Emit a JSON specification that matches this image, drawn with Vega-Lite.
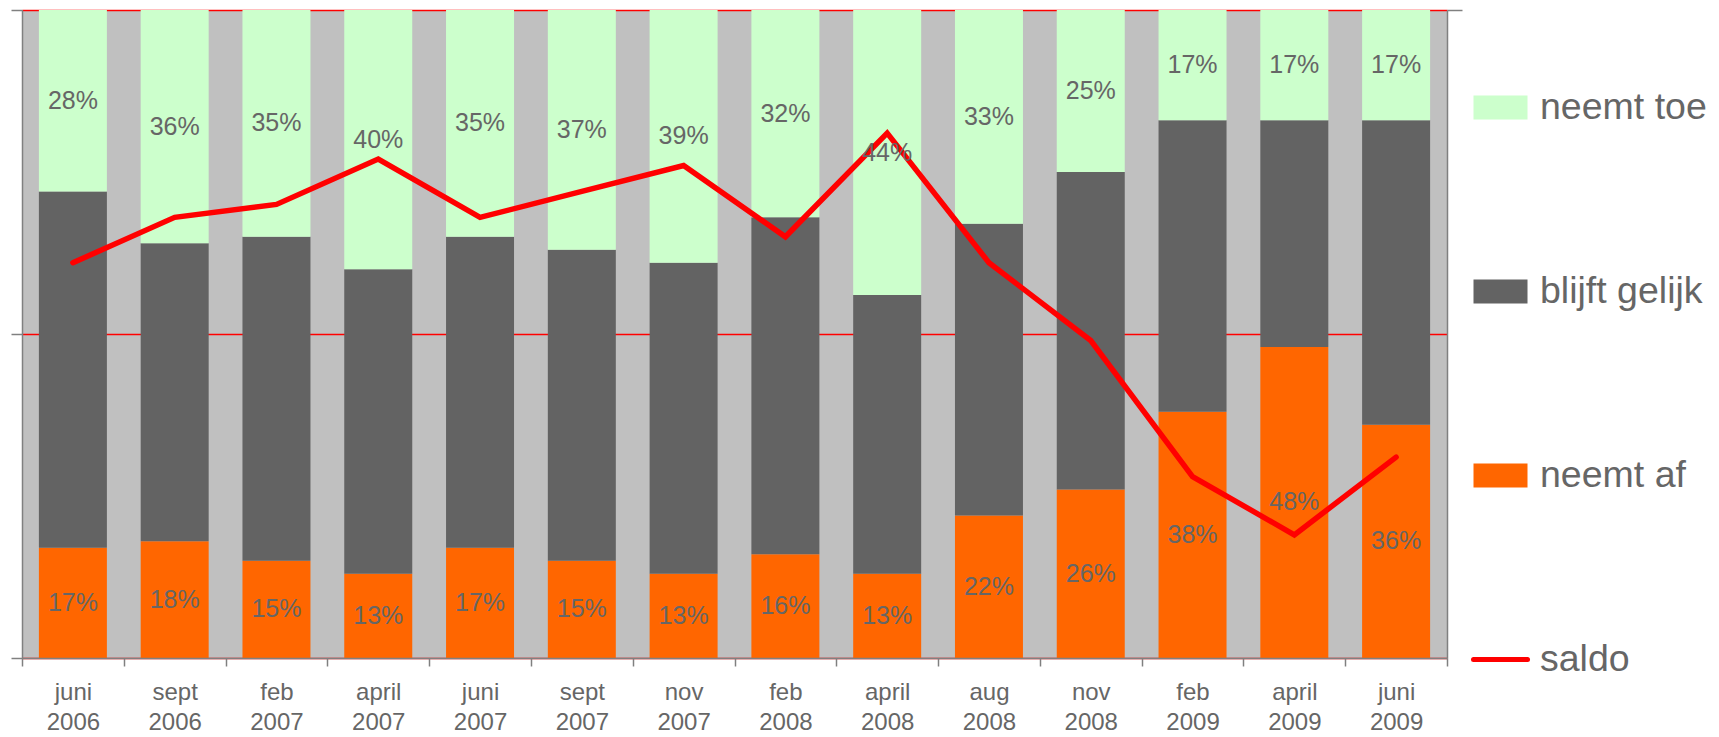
{
  "$schema": "https://vega.github.io/schema/vega-lite/v6.json",
  "width": 1425,
  "height": 648,
  "autosize": "none",
  "padding": {"left": 22, "top": 10, "right": 272, "bottom": 79},
  "background": "white",
  "config": {
    "view": {"fill": "#C0C0C0", "stroke": null},
    "font": "Liberation Sans"
  },
  "datasets": {
    "segments": [
      {"periode": "juni 2006", "cat": "neemt af", "pct": 0.17},
      {"periode": "juni 2006", "cat": "blijft gelijk", "pct": 0.55},
      {"periode": "juni 2006", "cat": "neemt toe", "pct": 0.28},
      {"periode": "sept 2006", "cat": "neemt af", "pct": 0.18},
      {"periode": "sept 2006", "cat": "blijft gelijk", "pct": 0.46},
      {"periode": "sept 2006", "cat": "neemt toe", "pct": 0.36},
      {"periode": "feb 2007", "cat": "neemt af", "pct": 0.15},
      {"periode": "feb 2007", "cat": "blijft gelijk", "pct": 0.50},
      {"periode": "feb 2007", "cat": "neemt toe", "pct": 0.35},
      {"periode": "april 2007", "cat": "neemt af", "pct": 0.13},
      {"periode": "april 2007", "cat": "blijft gelijk", "pct": 0.47},
      {"periode": "april 2007", "cat": "neemt toe", "pct": 0.40},
      {"periode": "juni 2007", "cat": "neemt af", "pct": 0.17},
      {"periode": "juni 2007", "cat": "blijft gelijk", "pct": 0.48},
      {"periode": "juni 2007", "cat": "neemt toe", "pct": 0.35},
      {"periode": "sept 2007", "cat": "neemt af", "pct": 0.15},
      {"periode": "sept 2007", "cat": "blijft gelijk", "pct": 0.48},
      {"periode": "sept 2007", "cat": "neemt toe", "pct": 0.37},
      {"periode": "nov 2007", "cat": "neemt af", "pct": 0.13},
      {"periode": "nov 2007", "cat": "blijft gelijk", "pct": 0.48},
      {"periode": "nov 2007", "cat": "neemt toe", "pct": 0.39},
      {"periode": "feb 2008", "cat": "neemt af", "pct": 0.16},
      {"periode": "feb 2008", "cat": "blijft gelijk", "pct": 0.52},
      {"periode": "feb 2008", "cat": "neemt toe", "pct": 0.32},
      {"periode": "april 2008", "cat": "neemt af", "pct": 0.13},
      {"periode": "april 2008", "cat": "blijft gelijk", "pct": 0.43},
      {"periode": "april 2008", "cat": "neemt toe", "pct": 0.44},
      {"periode": "aug 2008", "cat": "neemt af", "pct": 0.22},
      {"periode": "aug 2008", "cat": "blijft gelijk", "pct": 0.45},
      {"periode": "aug 2008", "cat": "neemt toe", "pct": 0.33},
      {"periode": "nov 2008", "cat": "neemt af", "pct": 0.26},
      {"periode": "nov 2008", "cat": "blijft gelijk", "pct": 0.49},
      {"periode": "nov 2008", "cat": "neemt toe", "pct": 0.25},
      {"periode": "feb 2009", "cat": "neemt af", "pct": 0.38},
      {"periode": "feb 2009", "cat": "blijft gelijk", "pct": 0.45},
      {"periode": "feb 2009", "cat": "neemt toe", "pct": 0.17},
      {"periode": "april 2009", "cat": "neemt af", "pct": 0.48},
      {"periode": "april 2009", "cat": "blijft gelijk", "pct": 0.35},
      {"periode": "april 2009", "cat": "neemt toe", "pct": 0.17},
      {"periode": "juni 2009", "cat": "neemt af", "pct": 0.36},
      {"periode": "juni 2009", "cat": "blijft gelijk", "pct": 0.47},
      {"periode": "juni 2009", "cat": "neemt toe", "pct": 0.17}
    ],
    "saldo": [
      {"periode": "juni 2006", "saldo": 11},
      {"periode": "sept 2006", "saldo": 18},
      {"periode": "feb 2007", "saldo": 20},
      {"periode": "april 2007", "saldo": 27},
      {"periode": "juni 2007", "saldo": 18},
      {"periode": "sept 2007", "saldo": 22},
      {"periode": "nov 2007", "saldo": 26},
      {"periode": "feb 2008", "saldo": 15},
      {"periode": "april 2008", "saldo": 31},
      {"periode": "aug 2008", "saldo": 11},
      {"periode": "nov 2008", "saldo": -1},
      {"periode": "feb 2009", "saldo": -22},
      {"periode": "april 2009", "saldo": -31},
      {"periode": "juni 2009", "saldo": -19}
    ]
  },
  "encoding": {
    "x": {
      "field": "periode",
      "type": "nominal",
      "sort": null,
      "scale": {
        "domain": ["juni 2006", "sept 2006", "feb 2007", "april 2007", "juni 2007", "sept 2007", "nov 2007", "feb 2008", "april 2008", "aug 2008", "nov 2008", "feb 2009", "april 2009", "juni 2009"],
        "paddingInner": 0,
        "paddingOuter": 0
      },
      "axis": {
        "title": null,
        "tickBand": "extent",
        "labelExpr": "split(datum.label, ' ')",
        "labelFontSize": 24,
        "labelColor": "#666666",
        "labelFont": "Liberation Sans",
        "labelLineHeight": 30,
        "labelPadding": 14,
        "labelAngle": 0,
        "tickSize": 8,
        "tickColor": "#808080",
        "tickWidth": 1.5,
        "domainColor": "#808080",
        "domainWidth": 1.5,
        "zindex": 1
      }
    }
  },
  "layer": [
    {
      "layer": [
        {
          "data": {"name": "segments"},
          "mark": {"type": "bar", "width": {"band": 0.668}},
          "encoding": {
            "y": {
              "field": "pct",
              "type": "quantitative",
              "stack": "zero",
              "scale": {"domain": [0, 1], "nice": false},
              "axis": {
                "title": null,
                "values": [0, 0.5, 1],
                "labels": false,
                "tickSize": 11,
                "tickColor": "#808080",
                "tickWidth": 1.5,
                "domainColor": "#808080",
                "domainWidth": 1.5,
                "grid": true,
                "gridColor": "#FF0000",
                "gridWidth": 1.5
              }
            },
            "order": {"field": "periode"},
            "color": {
              "field": "cat",
              "type": "nominal",
              "scale": {
                "domain": ["neemt toe", "blijft gelijk", "neemt af", "saldo"],
                "range": ["#CCFFCC", "#636363", "#FF6600", "#FF0000"]
              },
              "legend": {
                "title": null,
                "orient": "none",
                "legendX": 1449,
                "legendY": 68,
                "padding": 0,
                "symbolSize": 2916,
                "symbolStrokeWidth": 0,
                "labelFontSize": 37.5,
                "labelFont": "Liberation Sans",
                "labelColor": "#666666",
                "labelOffset": 10,
                "labelLimit": 300,
                "rowPadding": 132,
                "encode": {
                  "symbols": {
                    "update": {
                      "shape": {"signal": "datum.value === 'saldo' ? 'stroke' : 'M-1,-0.444H1V0.444H-1Z'"},
                      "fill": {"signal": "scale('color', datum.value)"},
                      "stroke": {"signal": "datum.value === 'saldo' ? '#FF0000' : 'transparent'"},
                      "strokeWidth": {"value": 5},
                      "strokeCap": {"value": "round"},
                      "opacity": {"value": 1}
                    }
                  }
                }
              }
            }
          }
        },
        {
          "data": {"name": "saldo"},
          "mark": {"type": "line", "color": "#FF0000", "strokeWidth": 5.5, "strokeCap": "round", "strokeJoin": "miter"},
          "encoding": {
            "y": {
              "field": "saldo",
              "type": "quantitative",
              "scale": {"domain": [-50, 50], "nice": false},
              "axis": {
                "orient": "right",
                "title": null,
                "values": [50],
                "labels": false,
                "tickSize": 15,
                "tickColor": "#808080",
                "tickWidth": 1.5,
                "domainColor": "#808080",
                "domainWidth": 1.5,
                "grid": false
              }
            }
          }
        }
      ],
      "resolve": {"scale": {"y": "independent"}, "axis": {"y": "independent"}}
    },
    {
      "data": {"name": "segments"},
      "mark": {"type": "text", "fontSize": 25, "font": "Liberation Sans", "baseline": "middle", "align": "center", "fill": "#666666"},
      "encoding": {
        "y": {
          "field": "pct",
          "type": "quantitative",
          "stack": "zero",
          "bandPosition": 0.5,
          "scale": {"domain": [0, 1], "nice": false},
          "axis": null
        },
        "order": {"field": "periode"},
        "detail": {"field": "cat"},
        "text": {"field": "pct", "type": "quantitative", "format": ".0%"},
        "opacity": {"condition": {"test": "datum.cat === 'blijft gelijk'", "value": 0}, "value": 1}
      }
    }
  ]
}
